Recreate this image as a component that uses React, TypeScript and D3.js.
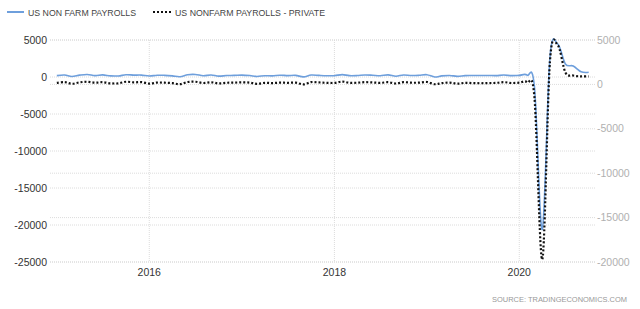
import React from "react";
import * as d3 from "d3";

const W = 640;
const H = 309;

// Monthly change, thousands of jobs (Jan 2015 .. Oct 2020)
const total = [
  190, 271, 72, 251, 339, 192, 283, 148, 145, 304, 257, 255,
  126, 237, 225, 153, 36, 308, 344, 177, 270, 114, 199, 213,
  259, 195, 73, 175, 155, 239, 190, 221, 18, 271, 216, 175,
  176, 324, 182, 196, 270, 235, 178, 282, 108, 277, 196, 227,
  312, 1, 147, 210, 85, 182, 194, 207, 208, 185, 261, 184,
  214, 251, -1373, -20600, 2600, 4450, 1761, 1493, 711, 638,
];
const privateSeries = [
  170, 250, 70, 230, 300, 190, 250, 120, 120, 300, 230, 260,
  90, 210, 190, 140, 20, 270, 300, 160, 240, 110, 180, 200,
  230, 200, 70, 180, 150, 200, 180, 200, 0, 260, 220, 180,
  170, 320, 180, 190, 250, 220, 170, 250, 100, 250, 190, 200,
  270, 20, 140, 200, 80, 170, 150, 130, 150, 170, 250, 160,
  190, 230, -1500, -19700, 2550, 4400, 1350, 1000, 900, 900,
];
const leftTicks = [5000, 0, -5000, -10000, -15000, -20000, -25000];
const rightTicks = [5000, 0, -5000, -10000, -15000, -20000];
const xTickYears = [2016, 2018, 2020];
const legendLabels = ["US NON FARM PAYROLLS", "US NONFARM PAYROLLS - PRIVATE"];
const sourceText = "SOURCE:  TRADINGECONOMICS.COM";

const dates = d3.timeMonth.range(new Date(2015, 0, 1), new Date(2020, 10, 1));

export default function App() {
  const left = 50, right = 595, top = 40, bottom = 262;
  const x = d3.scaleTime().domain([new Date(2014, 11, 5), new Date(2020, 9, 26)]).range([left, right]);
  const yL = d3.scaleLinear().domain([-25000, 5000]).range([bottom, top]);
  const yR = d3.scaleLinear().domain([-20000, 5000]).range([bottom, top]);

  const lineL = d3.line<number>().x((_, i) => x(dates[i])).y((d) => yL(d)).curve(d3.curveCardinal.tension(0));
  const lineR = d3.line<number>().x((_, i) => x(dates[i])).y((d) => yR(d)).curve(d3.curveCardinal.tension(0));

  const font = "'Liberation Sans', Arial, sans-serif";
  const grid = "#dcdcdc";
  const blue = "#6e9fdc";

  return (
    <svg width={W} height={H} style={{ position: "absolute", left: 0, top: 0, background: "#fff" }} fontFamily={font}>
      {/* legend */}
      <line x1={7} x2={24} y1={12} y2={12} stroke={blue} strokeWidth={2} />
      <text x={28} y={15.5} fontSize={9.3} fill="#444" textLength={108} lengthAdjust="spacingAndGlyphs">{legendLabels[0]}</text>
      <line x1={153} x2={171} y1={12} y2={12} stroke="#111" strokeWidth={2.2} strokeDasharray="2,2" />
      <text x={175} y={15.5} fontSize={9.3} fill="#444" textLength={150} lengthAdjust="spacingAndGlyphs">{legendLabels[1]}</text>

      {/* grid */}
      {leftTicks.map((t) => (
        <line key={"gl" + t} x1={left} x2={right} y1={yL(t)} y2={yL(t)} stroke={grid} strokeDasharray="1,1" />
      ))}
      {rightTicks.map((t) => (
        <line key={"gr" + t} x1={left} x2={right} y1={yR(t)} y2={yR(t)} stroke={grid} strokeDasharray="1,1" />
      ))}
      {xTickYears.map((yr) => (
        <line key={"gx" + yr} x1={x(new Date(yr, 0, 1))} x2={x(new Date(yr, 0, 1))} y1={top} y2={bottom} stroke={grid} strokeDasharray="1,1" />
      ))}

      {/* axes labels */}
      {leftTicks.map((t) => (
        <text key={"tl" + t} x={47} y={yL(t)} dy="0.35em" textAnchor="end" fontSize={10.5} fill="#333">{t}</text>
      ))}
      {rightTicks.map((t) => (
        <text key={"tr" + t} x={597} y={yR(t)} dy="0.35em" textAnchor="start" fontSize={10.5} fill="#b0b0b0">{t}</text>
      ))}
      {xTickYears.map((yr) => (
        <text key={"tx" + yr} x={x(new Date(yr, 0, 1))} y={276} textAnchor="middle" fontSize={10.5} fill="#333">{yr}</text>
      ))}

      {/* series */}
      <path d={lineL(total) || ""} fill="none" stroke={blue} strokeWidth={1.6} />
      <path d={lineR(privateSeries) || ""} fill="none" stroke="#111" strokeWidth={2.2} strokeDasharray="2,2" />

      {/* source */}
      <text x={492} y={302} fontSize={7.5} fill="#999" textLength={135} lengthAdjust="spacingAndGlyphs">{sourceText}</text>
    </svg>
  );
}
